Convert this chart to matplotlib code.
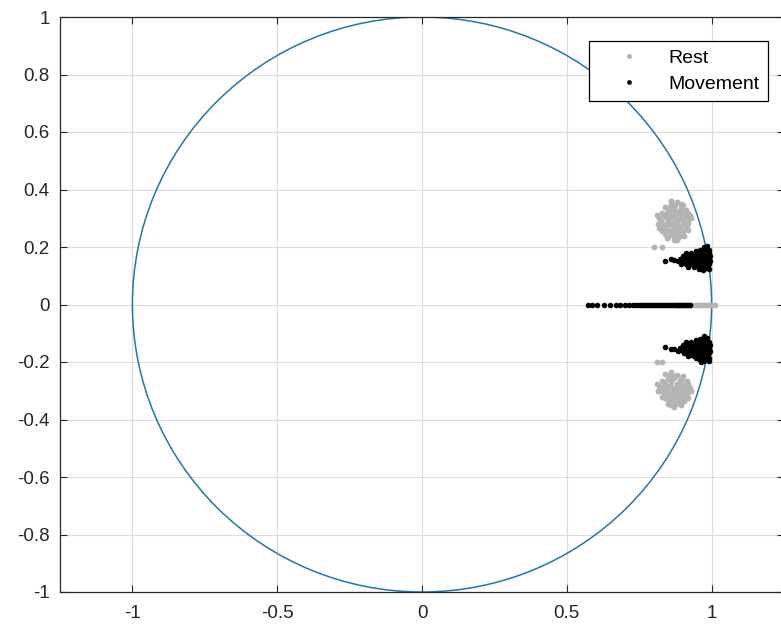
import numpy as np
import matplotlib
matplotlib.use("Agg")
import matplotlib.pyplot as plt
from matplotlib.patches import Circle

plt.rcParams['font.family'] = ['Liberation Sans', 'DejaVu Sans']

# ---- data (pole locations) ----
rest_up_x = [0.84, 0.86, 0.88, 0.90, 0.87, 0.85, 0.83, 0.89, 0.91, 0.92, 0.90, 0.88, 0.86, 0.84, 0.82,
             0.83, 0.85, 0.87, 0.89, 0.91, 0.93, 0.92, 0.90, 0.88, 0.86, 0.84, 0.82, 0.83, 0.85, 0.87,
             0.89, 0.91, 0.92, 0.90, 0.88, 0.86, 0.84, 0.85, 0.87, 0.89, 0.87, 0.80, 0.83, 0.865, 0.895,
             0.845, 0.875, 0.905, 0.835, 0.875, 0.81, 0.815, 0.925, 0.86,
             0.855, 0.875, 0.895, 0.915, 0.835, 0.855, 0.885, 0.905, 0.825, 0.845, 0.865, 0.885, 0.915,
             0.835, 0.855, 0.895, 0.915, 0.845, 0.865, 0.885, 0.905, 0.855, 0.875, 0.895, 0.88, 0.86]
rest_up_y = [0.34, 0.35, 0.355, 0.345, 0.335, 0.325, 0.32, 0.33, 0.33, 0.32, 0.315, 0.32, 0.31, 0.305, 0.30,
             0.285, 0.29, 0.30, 0.30, 0.305, 0.30, 0.285, 0.285, 0.28, 0.275, 0.27, 0.265, 0.255, 0.26, 0.265,
             0.27, 0.27, 0.26, 0.255, 0.25, 0.245, 0.245, 0.235, 0.24, 0.24, 0.225, 0.20, 0.20, 0.345, 0.35,
             0.315, 0.31, 0.295, 0.275, 0.255, 0.31, 0.28, 0.31, 0.36,
             0.33, 0.325, 0.32, 0.315, 0.31, 0.30, 0.295, 0.29, 0.29, 0.28, 0.285, 0.27, 0.29,
             0.265, 0.255, 0.255, 0.275, 0.23, 0.25, 0.235, 0.24, 0.34, 0.345, 0.335, 0.225, 0.36]
rest_dn_x = [0.84, 0.86, 0.88, 0.90, 0.87, 0.85, 0.83, 0.89, 0.91, 0.92, 0.90, 0.88, 0.86, 0.84, 0.82,
             0.83, 0.85, 0.87, 0.89, 0.91, 0.93, 0.92, 0.90, 0.88, 0.86, 0.84, 0.82, 0.83, 0.85, 0.87,
             0.89, 0.91, 0.92, 0.90, 0.88, 0.86, 0.84, 0.85, 0.87, 0.89, 0.87, 0.81, 0.83, 0.865, 0.895,
             0.845, 0.875, 0.905, 0.835, 0.875, 0.81, 0.815, 0.925, 0.86,
             0.855, 0.875, 0.895, 0.915, 0.835, 0.855, 0.885, 0.905, 0.825, 0.845, 0.865, 0.885, 0.915,
             0.835, 0.855, 0.895, 0.915, 0.845, 0.865, 0.885, 0.905, 0.855, 0.875, 0.895, 0.88, 0.86]
rest_dn_y = [-0.24, -0.235, -0.245, -0.25, -0.255, -0.26, -0.265, -0.265, -0.27, -0.275, -0.28, -0.275, -0.27,
             -0.28, -0.285, -0.29, -0.29, -0.29, -0.29, -0.295, -0.30, -0.305, -0.305, -0.31, -0.31, -0.305,
             -0.30, -0.32, -0.315, -0.32, -0.32, -0.32, -0.325, -0.33, -0.33, -0.335, -0.325, -0.345, -0.34,
             -0.345, -0.355, -0.20, -0.20, -0.255, -0.26, -0.285, -0.295, -0.31, -0.31, -0.335, -0.275,
             -0.30, -0.29, -0.245,
             -0.245, -0.25, -0.26, -0.265, -0.27, -0.28, -0.275, -0.285, -0.29, -0.295, -0.30, -0.30,
             -0.31, -0.305, -0.315, -0.315, -0.32, -0.33, -0.325, -0.335, -0.335, -0.34, -0.345, -0.35,
             -0.325, -0.35]
rest_re_x = [0.88, 0.89, 0.90, 0.91, 0.92, 0.93, 0.94, 0.95, 0.96, 0.97, 0.98, 0.99, 1.00, 1.012]
rest_re_y = [0.0] * len(rest_re_x)

move_up_x = [0.90, 0.91, 0.92, 0.93, 0.94, 0.95, 0.96, 0.97, 0.98, 0.99, 0.90, 0.92, 0.94, 0.96, 0.98,
             0.97, 0.95, 0.93, 0.91, 0.96, 0.98, 0.975, 0.985, 0.99, 0.995, 0.995, 0.99, 0.97, 0.95, 0.93,
             0.91, 0.92, 0.94, 0.96, 0.98, 0.97, 0.99, 0.955, 0.89, 0.885, 0.87, 0.84, 0.86, 0.905, 0.925,
             0.945, 0.965, 0.985, 0.915, 0.935, 0.955, 0.975, 0.945, 0.965, 0.935, 0.955, 0.975, 0.915,
             0.985, 0.965, 0.895, 0.905, 0.925, 0.945, 0.985, 0.93, 0.95, 0.97, 0.99, 0.975]
move_up_y = [0.15, 0.16, 0.17, 0.16, 0.15, 0.16, 0.17, 0.16, 0.15, 0.16, 0.17, 0.15, 0.17, 0.15, 0.17,
             0.18, 0.18, 0.18, 0.18, 0.19, 0.19, 0.20, 0.205, 0.18, 0.17, 0.15, 0.14, 0.14, 0.14, 0.14,
             0.14, 0.13, 0.13, 0.13, 0.13, 0.12, 0.125, 0.125, 0.16, 0.15, 0.155, 0.15, 0.16, 0.165, 0.155,
             0.165, 0.155, 0.165, 0.175, 0.17, 0.175, 0.17, 0.185, 0.185, 0.145, 0.145, 0.145, 0.145,
             0.135, 0.135, 0.14, 0.155, 0.145, 0.14, 0.155, 0.165, 0.17, 0.19, 0.19, 0.125]
move_dn_x = [0.90, 0.91, 0.92, 0.93, 0.94, 0.95, 0.96, 0.97, 0.98, 0.99, 0.90, 0.92, 0.94, 0.96, 0.98,
             0.97, 0.95, 0.93, 0.91, 0.96, 0.98, 0.975, 0.985, 0.99, 0.995, 0.995, 0.99, 0.97, 0.95, 0.93,
             0.91, 0.92, 0.94, 0.96, 0.98, 0.97, 0.99, 0.955, 0.89, 0.885, 0.87, 0.84, 0.86, 0.905, 0.925,
             0.945, 0.965, 0.985, 0.915, 0.935, 0.955, 0.975, 0.945, 0.965, 0.935, 0.955, 0.975, 0.915,
             0.985, 0.965, 0.895, 0.905, 0.925, 0.945, 0.985, 0.93, 0.95, 0.97, 0.99, 0.975]
move_dn_y = [-0.16, -0.15, -0.14, -0.15, -0.16, -0.15, -0.14, -0.15, -0.16, -0.15, -0.14, -0.16, -0.14,
             -0.16, -0.14, -0.13, -0.13, -0.13, -0.13, -0.12, -0.12, -0.11, -0.115, -0.13, -0.14, -0.16,
             -0.17, -0.17, -0.17, -0.17, -0.17, -0.18, -0.18, -0.18, -0.18, -0.19, -0.195, -0.19, -0.15,
             -0.16, -0.155, -0.148, -0.155, -0.145, -0.155, -0.145, -0.155, -0.145, -0.135, -0.14, -0.135,
             -0.14, -0.125, -0.125, -0.165, -0.165, -0.165, -0.165, -0.175, -0.2,
             -0.155, -0.17, -0.175, -0.185, -0.185, -0.16, -0.175, -0.175, -0.185, -0.195]
move_re_x = [0.572, 0.588, 0.604, 0.627, 0.650, 0.671, 0.685, 0.700, 0.715, 0.728, 0.740, 0.748, 0.755,
             0.762, 0.770, 0.777, 0.784, 0.791, 0.798, 0.805, 0.812, 0.819, 0.826, 0.833, 0.840, 0.847,
             0.854, 0.861, 0.868, 0.875, 0.882, 0.889, 0.896, 0.903, 0.910, 0.917, 0.924]
move_re_y = [0.0] * len(move_re_x)

labels = ['Rest', 'Movement']
colors = ['#b4b4b4', '#000000']

rest_x = rest_up_x + rest_dn_x + rest_re_x
rest_y = rest_up_y + rest_dn_y + rest_re_y
move_x = move_up_x + move_dn_x + move_re_x
move_y = move_up_y + move_dn_y + move_re_y

# ---- figure ----
W, H = 781, 628
fig = plt.figure(figsize=(W / 100, H / 100), dpi=100)
left, right, top, bottom = 60, 784, 17, 592
ax = fig.add_axes([left / W, (H - bottom) / H, (right - left) / W, (bottom - top) / H])

ax.add_patch(Circle((0, 0), 1, fill=False, ec='#1f77b0', lw=1.1, zorder=2))
ax.plot(rest_x, rest_y, 'o', color=colors[0], ms=4.2, mec='none', label=labels[0], zorder=3)
ax.plot(move_x, move_y, 'o', color=colors[1], ms=4.0, mec='none', label=labels[1], zorder=4)

ax.set_xlim(-1.25, 1.25)
ax.set_ylim(-1, 1)
ax.set_xticks([-1, -0.5, 0, 0.5, 1])
ax.set_xticklabels(['-1', '-0.5', '0', '0.5', '1'])
yt = [-1, -0.8, -0.6, -0.4, -0.2, 0, 0.2, 0.4, 0.6, 0.8, 1]
ax.set_yticks(yt)
ax.set_yticklabels(['-1', '-0.8', '-0.6', '-0.4', '-0.2', '0', '0.2', '0.4', '0.6', '0.8', '1'])
ax.grid(True, color='#dcdcdc', lw=0.8)
ax.set_axisbelow(True)
ax.tick_params(direction='in', length=5, width=0.8, colors='#262626', labelsize=13.5,
               top=True, right=True)
ax.tick_params(axis='x', pad=9)
ax.tick_params(axis='y', pad=7.5)
for s in ax.spines.values():
    s.set_color('#262626')
    s.set_linewidth(0.9)

leg = ax.legend(loc='upper right', bbox_to_anchor=(0.978, 0.958), fancybox=False,
                edgecolor='#000000', framealpha=1, fontsize=14, handletextpad=0.47,
                borderpad=0.42, labelspacing=0.42, handlelength=3.2, markerscale=0.85,
                borderaxespad=0)
leg.get_frame().set_linewidth(0.9)

fig.savefig('out.png', dpi=100)
